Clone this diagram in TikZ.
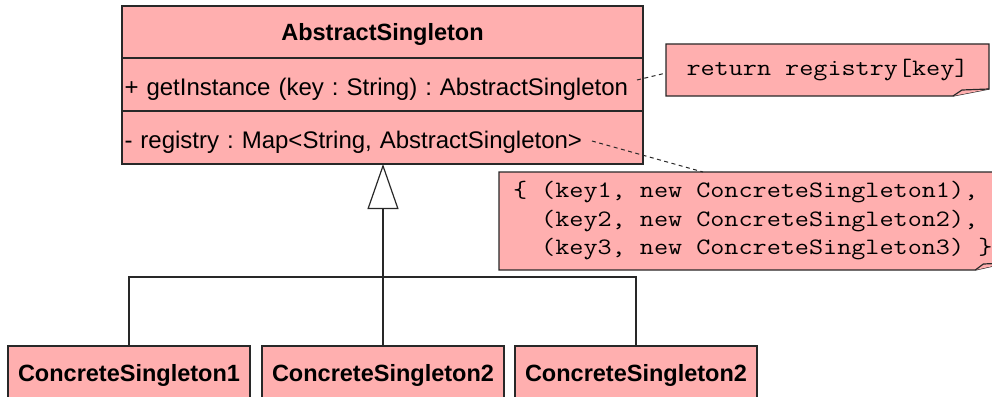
\documentclass[tikz,border=0pt]{standalone}
\usepackage{fontspec}
\setmainfont{Liberation Sans}
\setmonofont[FakeStretch=1.165]{Latin Modern Mono}
\usetikzlibrary{arrows.meta}

\definecolor{umlpink}{RGB}{255,175,175}
\definecolor{umlline}{RGB}{40,40,40}

\tikzset{
  box/.style={draw=umlline, fill=umlpink, line width=1.2pt, inner sep=0pt, outer sep=0pt,
    text height=17pt, text depth=0pt},
  titlebox/.style={box, font=\fontsize{23.5}{28}\selectfont\bfseries,
    anchor=north west, minimum width=521pt, minimum height=52pt},
  compartment/.style={box, font=\fontsize{24}{28}\selectfont, anchor=north west,
    minimum width=521pt, minimum height=53pt, text width=516pt, align=left,
    text height=21pt},
  concrete/.style={box, font=\fontsize{23.5}{28}\selectfont\bfseries,
    anchor=north west, minimum width=242pt, minimum height=54pt},
  notetext/.style={inner sep=0pt, outer sep=0pt, anchor=north west,
    font=\fontsize{23.5}{28.5}\selectfont\ttfamily},
  notebody/.style={draw=umlline, fill=umlpink, line width=1.2pt, line join=miter},
  conn/.style={draw=umlline, line width=1.2pt},
  noteline/.style={draw=umlline, line width=1pt, dash pattern=on 4pt off 3.5pt},
}

\begin{document}
\frenchspacing
\begin{tikzpicture}[x=1pt, y=-1pt]
  \useasboundingbox (0,0) rectangle (992,396);

  % abstract class with its two compartments
  \node[titlebox] (abs) at (122,6) {AbstractSingleton};
  \node[compartment] (ops) at (122,58) {+ getInstance (key : String) : AbstractSingleton};
  \node[compartment] (reg) at (122,111) {- registry : Map<String, AbstractSingleton>};
  \coordinate (opsEnd) at (637,80);
  \coordinate (regEnd) at (592,141);

  % concrete subclasses
  \node[concrete] (c1) at (8,346) {ConcreteSingleton1};
  \node[concrete] (c2) at (262,346) {ConcreteSingleton2};
  \node[concrete] (c3) at (515,346) {ConcreteSingleton2};

  % note: body of getInstance
  \node[notetext, minimum width=323pt, minimum height=52pt] (n1) at (666,44)
    {return registry[key]};
  \path[notebody] (n1.north west) -- (n1.north east) -- ([yshift=7pt]n1.south east)
    -- ([xshift=-36pt]n1.south east) -- (n1.south west) -- cycle;
  \path[notebody] ([xshift=-36pt]n1.south east) -- ([xshift=-27pt,yshift=6pt]n1.south east)
    -- ([yshift=7pt]n1.south east);
  \node[notetext, minimum width=323pt, minimum height=52pt] at (n1.north west)
    {return registry[key]};

  % note: contents of the registry
  \node[notetext, inner xsep=14pt, minimum height=98pt, align=left] (n2) at (499,172)
    {\{ (key1, new ConcreteSingleton1),\\
     \hspace*{2\fontcharwd\font`a}(key2, new ConcreteSingleton2),\\
     \hspace*{2\fontcharwd\font`a}(key3, new ConcreteSingleton3) \}};
  \path[notebody] (n2.north west) -- (n2.north east) -- ([yshift=7pt]n2.south east)
    -- ([xshift=-31pt]n2.south east) -- (n2.south west) -- cycle;
  \path[notebody] ([xshift=-31pt]n2.south east) -- ([xshift=-23pt,yshift=6pt]n2.south east)
    -- ([yshift=7pt]n2.south east);
  \node[notetext, inner xsep=14pt, minimum height=98pt, align=left] at (n2.north west)
    {\{ (key1, new ConcreteSingleton1),\\
     \hspace*{2\fontcharwd\font`a}(key2, new ConcreteSingleton2),\\
     \hspace*{2\fontcharwd\font`a}(key3, new ConcreteSingleton3) \}};

  % note anchors
  \draw[noteline] (opsEnd) -- ([yshift=-3pt]n1.west);
  \draw[noteline] (regEnd) -- ([xshift=204pt]n2.north west);

  % generalization
  \coordinate (hub) at (383,277);
  \draw[conn] (c1.north) |- (hub) -| (c3.north);
  \draw[conn] (c2.north) -- (hub);
  \draw[conn, line width=2pt,
        -{Triangle[open, line width=1.2pt, width=31pt, length=45pt]}]
    (hub) -- (hub |- reg.south);
\end{tikzpicture}
\end{document}
